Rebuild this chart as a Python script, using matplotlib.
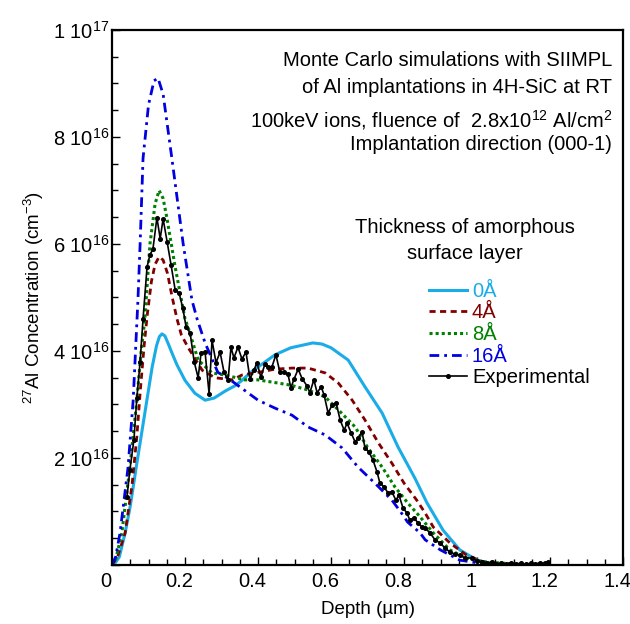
import matplotlib
matplotlib.use('Agg')
import matplotlib.pyplot as plt
from matplotlib.ticker import MultipleLocator, FixedLocator, FixedFormatter
from matplotlib.transforms import ScaledTranslation

plt.rcParams['font.family'] = ['Liberation Sans', 'DejaVu Sans']
plt.rcParams['mathtext.fontset'] = 'custom'
plt.rcParams['mathtext.rm'] = 'Liberation Sans'
plt.rcParams['mathtext.default'] = 'regular'

# concentrations in units of 1e16 cm^-3, depth in um
d_0 = [0.0, 0.01, 0.02, 0.036, 0.05, 0.068, 0.082, 0.096, 0.11, 0.122, 0.13, 0.137, 0.145, 0.155, 0.165,
       0.178, 0.2, 0.227, 0.255, 0.28, 0.31, 0.337, 0.356, 0.38, 0.40, 0.447, 0.49, 0.55, 0.575, 0.60,
       0.647, 0.693, 0.74, 0.784, 0.83, 0.863, 0.907, 0.953, 1.0, 1.035, 1.06]
c_0 = [0.0, 0.05, 0.15, 0.6, 1.1, 1.9, 2.5, 3.1, 3.7, 4.1, 4.27, 4.32, 4.28, 4.12, 3.95,
       3.74, 3.45, 3.21, 3.08, 3.12, 3.25, 3.35, 3.45, 3.6, 3.7, 3.93, 4.06, 4.15, 4.13, 4.06,
       3.83, 3.33, 2.84, 2.2, 1.62, 1.16, 0.65, 0.28, 0.09, 0.03, 0.0]

d_4 = [0.0, 0.015, 0.036, 0.055, 0.068, 0.078, 0.088, 0.097, 0.108, 0.118, 0.129, 0.14, 0.152, 0.165, 0.178,
       0.19, 0.208, 0.247, 0.282, 0.33, 0.356, 0.40, 0.447, 0.493, 0.537, 0.584, 0.62, 0.658, 0.693,
       0.73, 0.767, 0.80, 0.835, 0.858, 0.88, 0.926, 0.97, 1.016, 1.06, 1.1]
c_4 = [0.0, 0.15, 0.6, 1.5, 2.4, 3.3, 4.1, 4.7, 5.3, 5.62, 5.76, 5.7, 5.45, 5.0, 4.6,
       4.3, 4.07, 3.64, 3.5, 3.46, 3.55, 3.6, 3.66, 3.68, 3.68, 3.59, 3.4, 3.08, 2.71,
       2.28, 1.9, 1.53, 1.21, 0.97, 0.71, 0.41, 0.19, 0.06, 0.02, 0.0]

d_8 = [0.0, 0.01, 0.027, 0.049, 0.068, 0.08, 0.09, 0.104, 0.118, 0.129, 0.14, 0.15, 0.173, 0.2, 0.208,
       0.236, 0.274, 0.31, 0.364, 0.40, 0.455, 0.49, 0.537, 0.584, 0.62, 0.666, 0.70, 0.74, 0.775,
       0.81, 0.844, 0.88, 0.926, 0.97, 1.016, 1.1, 1.2]
c_8 = [0.0, 0.1, 0.6, 1.83, 3.08, 4.0, 4.6, 6.0, 6.75, 7.0, 6.85, 6.5, 5.57, 4.6, 4.45,
       3.83, 3.59, 3.55, 3.46, 3.46, 3.4, 3.36, 3.27, 3.14, 2.9, 2.58, 2.2, 1.83, 1.46,
       1.16, 0.9, 0.6, 0.28, 0.13, 0.06, 0.02, 0.0]

d_16 = [0.0, 0.01, 0.022, 0.044, 0.058, 0.071, 0.077, 0.085, 0.1, 0.115, 0.126, 0.14, 0.164, 0.195,
        0.219, 0.233, 0.255, 0.29, 0.32, 0.356, 0.40, 0.447, 0.493, 0.537, 0.584, 0.63, 0.674, 0.72,
        0.767, 0.79, 0.81, 0.844, 0.858, 0.9, 0.953, 1.01, 1.06]
c_16 = [0.0, 0.15, 0.6, 1.83, 3.08, 4.95, 6.0, 7.6, 8.6, 9.05, 9.1, 8.8, 7.6, 6.0,
        4.95, 4.6, 4.15, 3.6, 3.48, 3.3, 3.08, 2.93, 2.8, 2.58, 2.43, 2.19, 1.83, 1.53,
        1.21, 1.0, 0.8, 0.6, 0.47, 0.28, 0.09, 0.03, 0.0]

d_exp = [0.041, 0.049, 0.060, 0.068, 0.077, 0.085, 0.096, 0.104, 0.112, 0.123, 0.132, 0.140, 0.151,
         0.162, 0.173, 0.184, 0.194, 0.203, 0.214, 0.225, 0.236, 0.244, 0.255, 0.266, 0.274, 0.285,
         0.296, 0.307, 0.318, 0.326, 0.334, 0.345, 0.356, 0.367, 0.378, 0.389, 0.397, 0.408, 0.419,
         0.427, 0.438, 0.449, 0.460, 0.471, 0.482, 0.490, 0.499, 0.510, 0.521, 0.534, 0.542, 0.553,
         0.562, 0.573, 0.581, 0.592, 0.603, 0.614, 0.625, 0.636, 0.644, 0.655, 0.666, 0.674, 0.685,
         0.693, 0.704, 0.715, 0.726, 0.734, 0.745, 0.756, 0.767, 0.778, 0.786, 0.797, 0.808, 0.816,
         0.827, 0.838, 0.849, 0.858, 0.871, 0.885, 0.899, 0.912, 0.926, 0.940, 0.953, 0.967, 0.986,
         1.000, 1.014, 1.027, 1.040, 1.053, 1.066, 1.080, 1.093, 1.107, 1.120, 1.134, 1.147, 1.160,
         1.173, 1.186, 1.195]
c_exp = [1.27, 1.78, 2.34, 3.12, 3.8, 4.6, 5.57, 5.8, 5.9, 6.49, 6.1, 6.47, 6.04,
         5.6, 5.14, 5.08, 4.8, 4.45, 4.34, 3.8, 3.5, 3.96, 3.98, 3.2, 4.2, 3.78,
         3.98, 3.6, 3.46, 4.07, 3.87, 4.07, 3.85, 3.98, 3.48, 3.64, 3.78, 3.51, 3.76,
         3.7, 3.7, 3.93, 3.6, 3.6, 3.57, 3.31, 3.48, 3.66, 3.48, 3.35, 3.22, 3.46,
         3.22, 3.33, 3.18, 2.84, 2.99, 3.03, 2.71, 2.52, 2.65, 2.47, 2.3, 2.37, 2.49,
         2.19, 2.11, 1.96, 1.74, 1.53, 1.46, 1.35, 1.36, 1.21, 1.31, 1.07, 0.97, 0.84,
         0.88, 0.79, 0.71, 0.69, 0.6, 0.47, 0.41, 0.32, 0.24, 0.2, 0.19, 0.13, 0.13,
         0.07, 0.06, 0.04, 0.05, 0.02, 0.03, 0.02, 0.04, 0.02, 0.03, 0.01, 0.03, 0.02,
         0.04, 0.03, 0.05]

x_ticks = [0, 0.2, 0.4, 0.6, 0.8, 1.0, 1.2, 1.4]
x_labels = ['0', '0.2', '0.4', '0.6', '0.8', '1', '1.2', '1.4']
y_ticks = [0, 2e16, 4e16, 6e16, 8e16, 1e17]
y_labels = ['', r'2 10$^{16}$', r'4 10$^{16}$', r'6 10$^{16}$', r'8 10$^{16}$', r'1 10$^{17}$']

fs = 14.5

fig = plt.figure(figsize=(6.3, 6.24), dpi=100)
ax = fig.add_axes([0.1778, 0.0946, 0.8111, 0.8574])

sc = 1e16
ax.plot(d_0, [v * sc for v in c_0], color='#1aace6', lw=2.2, label='0Å')
ax.plot(d_4, [v * sc for v in c_4], color='#800000', lw=2.0, dashes=(2.2, 1.6), label='4Å')
ax.plot(d_8, [v * sc for v in c_8], color='#008000', lw=2.2, dashes=(1.0, 1.0), label='8Å')
ax.plot(d_16, [v * sc for v in c_16], color='#0000e0', lw=2.0, dashes=(3.5, 1.8, 1.0, 1.8), label='16Å')
ax.plot(d_exp, [v * sc for v in c_exp], color='black', lw=1.2, marker='o', ms=2.6, label='Experimental')

ax.set_xlim(0, 1.4)
ax.set_ylim(0, 1e17)
ax.xaxis.set_major_locator(FixedLocator(x_ticks))
ax.xaxis.set_major_formatter(FixedFormatter(x_labels))
ax.xaxis.set_minor_locator(MultipleLocator(0.05))
ax.yaxis.set_major_locator(FixedLocator(y_ticks))
ax.yaxis.set_major_formatter(FixedFormatter(y_labels))
ax.yaxis.set_minor_locator(MultipleLocator(0.5e16))
ax.tick_params(which='both', direction='in', labelsize=fs, width=1.0)
ax.tick_params(which='major', length=6)
ax.tick_params(which='minor', length=4)
ax.tick_params(axis='y', pad=2)
ax.tick_params(axis='x', pad=5)
for s in ax.spines.values():
    s.set_linewidth(1.6)

# x tick labels sit a little left of their ticks in the original
shift = ScaledTranslation(-0.06, 0, fig.dpi_scale_trans)
for lab in ax.get_xticklabels():
    lab.set_transform(lab.get_transform() + shift)

ax.set_xlabel('Depth (µm)', fontsize=13.5, labelpad=7)
ax.set_ylabel(r'$^{27}$Al Concentration (cm$^{-3}$)', fontsize=13.5, labelpad=5)

tr = ax.transAxes
ax.text(0.978, 0.943, 'Monte Carlo simulations with SIIMPL', transform=tr, ha='right', va='center', fontsize=fs)
ax.text(0.978, 0.892, 'of Al implantations in 4H-SiC at RT', transform=tr, ha='right', va='center', fontsize=fs)
ax.text(0.980, 0.832, r'100keV ions, fluence of  2.8x10$^{12}$ Al/cm$^{2}$', transform=tr, ha='right', va='center', fontsize=fs)
ax.text(0.978, 0.785, 'Implantation direction (000-1)', transform=tr, ha='right', va='center', fontsize=fs)
ax.text(0.69, 0.630, 'Thickness of amorphous', transform=tr, ha='center', va='center', fontsize=fs)
ax.text(0.69, 0.583, 'surface layer', transform=tr, ha='center', va='center', fontsize=fs)

leg = ax.legend(loc='upper left', bbox_to_anchor=(0.6, 0.548), frameon=False, fontsize=fs,
                handlelength=1.9, handletextpad=0.25, labelspacing=0.13, borderpad=0,
                labelcolor='linecolor')
leg.get_texts()[-1].set_color('black')

fig.savefig('out.png', dpi=100)
